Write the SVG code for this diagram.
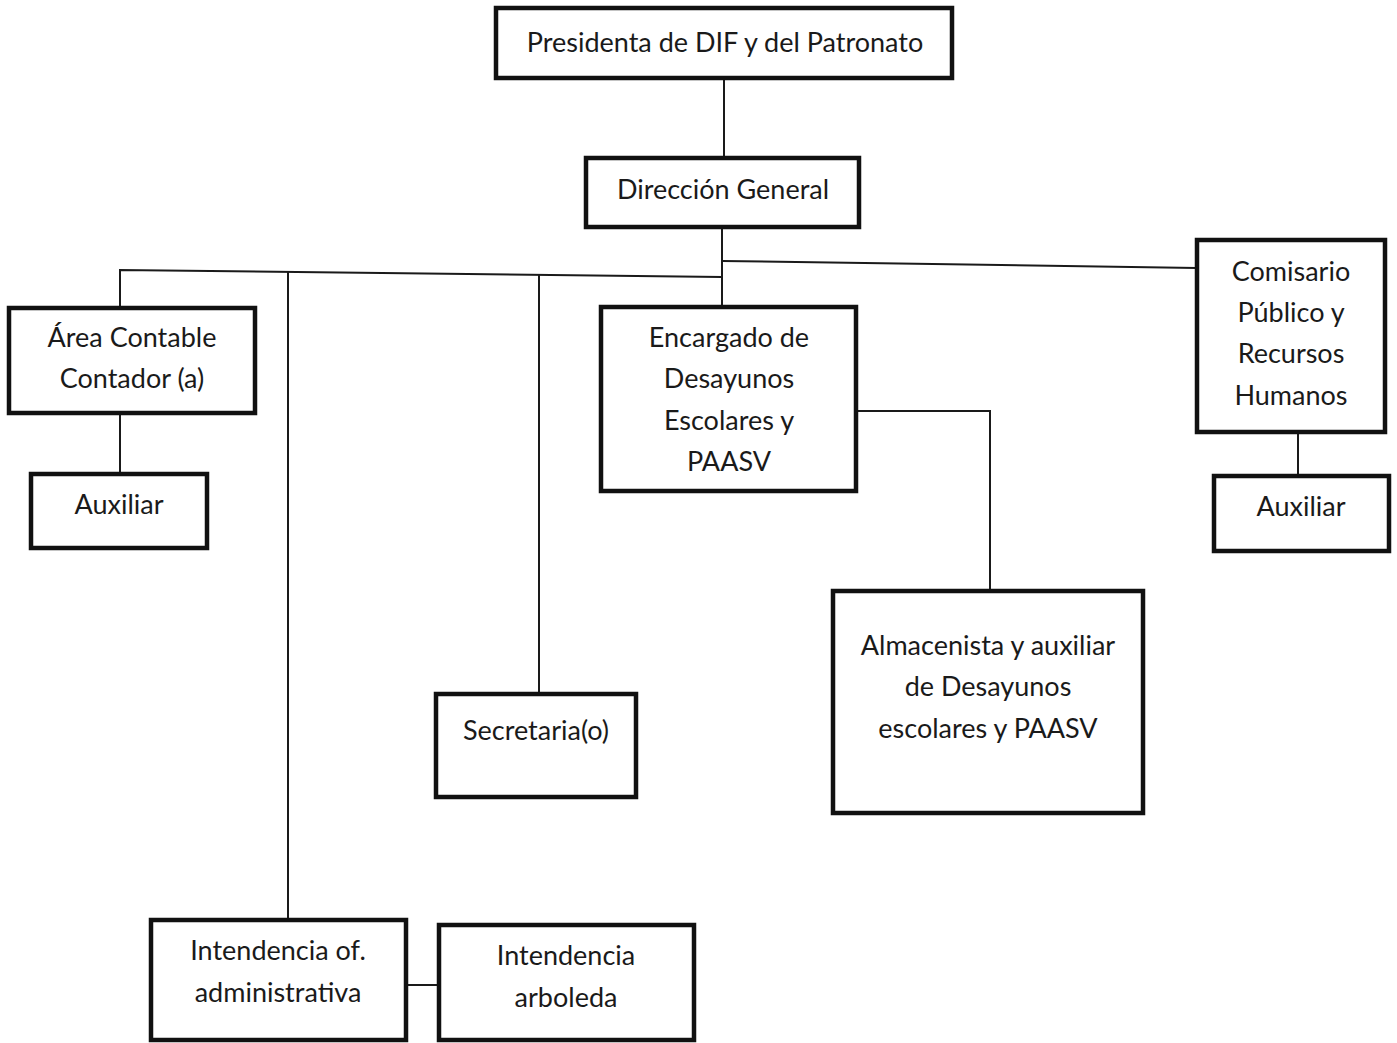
<svg xmlns="http://www.w3.org/2000/svg" width="1397" height="1043" viewBox="0 0 1397 1043">
<style>
.box{fill:#fff;stroke:#111;stroke-width:4.5}
.t{font-family:Lato,"Liberation Sans",sans-serif;font-size:27px;fill:#1a1a1a;text-anchor:middle}
.c{fill:none;stroke:#1a1a1a;stroke-width:2}
</style>
<rect width="1397" height="1043" fill="#fff"/>
<g id="connectors">
<line class="c" x1="724" y1="78" x2="724" y2="158"/>
<line class="c" x1="722" y1="227" x2="722" y2="307"/>
<polyline class="c" points="120,308 120,270 722,277"/>
<line class="c" x1="288" y1="272" x2="288" y2="920"/>
<line class="c" x1="539" y1="275" x2="539" y2="694"/>
<polyline class="c" points="722,261 1197,268"/>
<line class="c" x1="120" y1="413" x2="120" y2="474"/>
<line class="c" x1="1298" y1="432" x2="1298" y2="476"/>
<polyline class="c" points="856,411 990,411 990,591"/>
<line class="c" x1="406" y1="985" x2="439" y2="985"/>
</g>
<g id="presidenta"><rect class="box" x="496" y="8" width="456" height="70"/><text class="t" x="725" y="52">Presidenta de DIF y del Patronato</text></g>
<g id="direccion"><rect class="box" x="586" y="158" width="273" height="69"/><text class="t" x="723" y="199">Dirección General</text></g>
<g id="contable"><rect class="box" x="9" y="308" width="246" height="105"/><text class="t" x="132" y="347">Área Contable</text><text class="t" x="132" y="388">Contador (a)</text></g>
<g id="auxiliar1"><rect class="box" x="31" y="474" width="176" height="74"/><text class="t" x="119" y="514">Auxiliar</text></g>
<g id="encargado"><rect class="box" x="601" y="307" width="255" height="184"/><text class="t" x="729" y="347">Encargado de</text><text class="t" x="729" y="388">Desayunos</text><text class="t" x="729" y="430">Escolares y</text><text class="t" x="729" y="471">PAASV</text></g>
<g id="comisario"><rect class="box" x="1197" y="240" width="188" height="192"/><text class="t" x="1291" y="281">Comisario</text><text class="t" x="1291" y="322">Público y</text><text class="t" x="1291" y="363">Recursos</text><text class="t" x="1291" y="405">Humanos</text></g>
<g id="auxiliar2"><rect class="box" x="1214" y="476" width="175" height="75"/><text class="t" x="1301" y="516">Auxiliar</text></g>
<g id="almacenista"><rect class="box" x="833" y="591" width="310" height="222"/><text class="t" x="988" y="655">Almacenista y auxiliar</text><text class="t" x="988" y="696">de Desayunos</text><text class="t" x="988" y="738">escolares y PAASV</text></g>
<g id="secretaria"><rect class="box" x="436" y="694" width="200" height="103"/><text class="t" x="536" y="740">Secretaria(o)</text></g>
<g id="intendencia1"><rect class="box" x="151" y="920" width="255" height="120"/><text class="t" x="278" y="960">Intendencia of.</text><text class="t" x="278" y="1002">administrativa</text></g>
<g id="intendencia2"><rect class="box" x="439" y="925" width="255" height="115"/><text class="t" x="566" y="965">Intendencia</text><text class="t" x="566" y="1007">arboleda</text></g>
</svg>
